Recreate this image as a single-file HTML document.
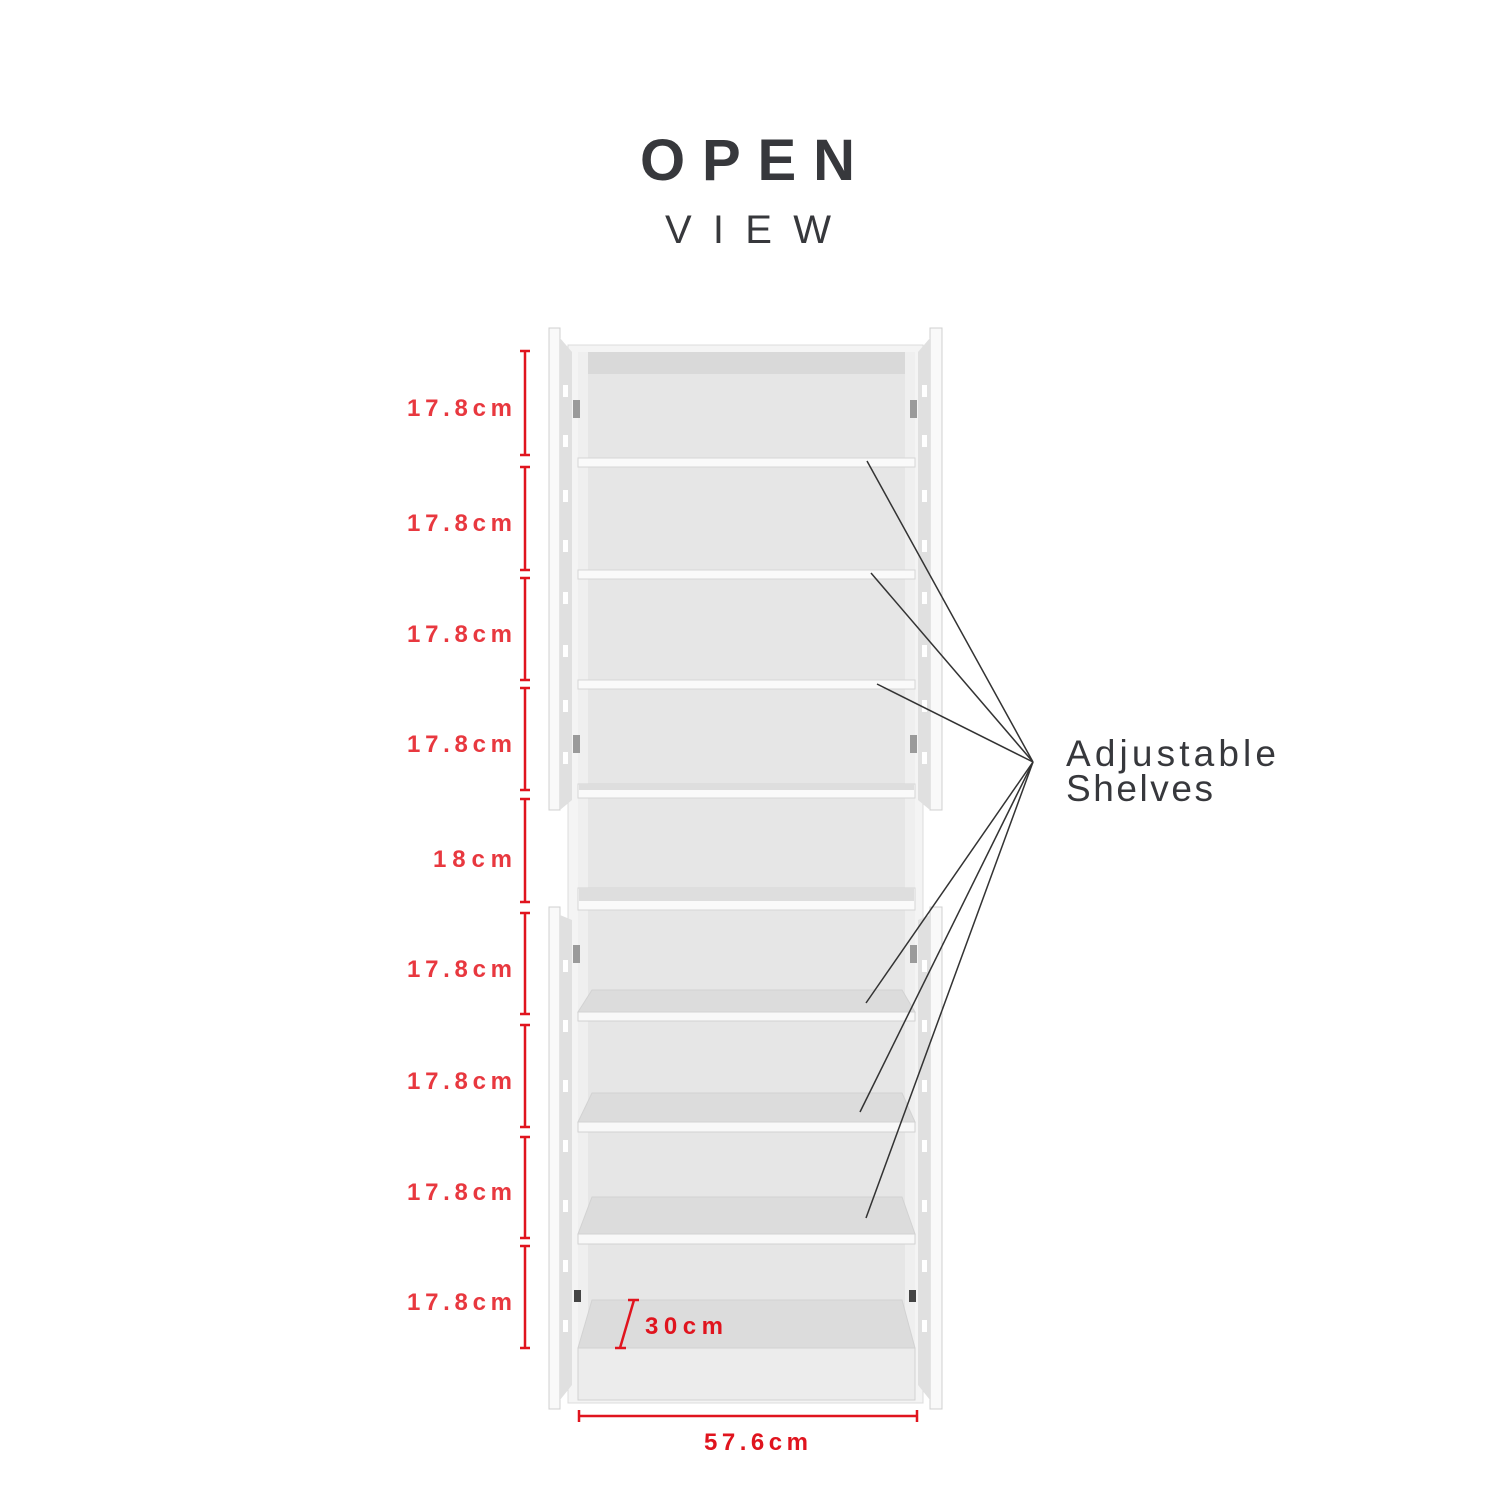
<!DOCTYPE html>
<html><head><meta charset="utf-8"><style>
html,body{margin:0;padding:0;background:#fff}
svg{display:block}
text{font-family:"Liberation Sans","DejaVu Sans",sans-serif}
</style></head><body>
<svg width="1500" height="1500" viewBox="0 0 1500 1500" xmlns="http://www.w3.org/2000/svg">
<text x="640" y="180" font-size="58" font-weight="bold" fill="#37383c" font-family="DejaVu Sans" textLength="215" lengthAdjust="spacing">OPEN</text>
<text x="665" y="243" font-size="40" fill="#37383c" font-family="DejaVu Sans" textLength="166" lengthAdjust="spacing">VIEW</text>

<rect x="568" y="345" width="355" height="1058" fill="#f4f4f4" stroke="#dcdcdc"/>
<rect x="578" y="352" width="337" height="1048" fill="#e6e6e6"/>
<rect x="578" y="352" width="337" height="22" fill="#d9d9d9"/>
<rect x="578" y="352" width="10" height="1048" fill="#efefef"/>
<rect x="905" y="352" width="10" height="1048" fill="#efefef"/>
<g fill="#fafafa" stroke="#d6d6d6">
<rect x="578" y="458" width="337" height="9"/>
<rect x="578" y="570" width="337" height="9"/>
<rect x="578" y="680" width="337" height="9"/>
<rect x="578" y="784" width="337" height="14"/>
<rect x="578" y="888" width="337" height="22"/>
</g>
<g fill="#dedede">
<rect x="579" y="888" width="335" height="13"/>
<rect x="579" y="784" width="335" height="6"/>
</g>
<g stroke="#d2d2d2">
<polygon points="592,990 902,990 915,1012 578,1012" fill="#dcdcdc"/>
<rect x="578" y="1012" width="337" height="9" fill="#f8f8f8"/>
<polygon points="592,1093 902,1093 915,1122 578,1122" fill="#dcdcdc"/>
<rect x="578" y="1122" width="337" height="10" fill="#f8f8f8"/>
<polygon points="592,1197 902,1197 915,1234 578,1234" fill="#dcdcdc"/>
<rect x="578" y="1234" width="337" height="10" fill="#f8f8f8"/>
<polygon points="592,1300 902,1300 915,1348 578,1348" fill="#dcdcdc"/>
<rect x="578" y="1348" width="337" height="52" fill="#ececec"/>
</g>
<g stroke="#d0d0d0" fill="#f9f9f9">
<rect x="549" y="328" width="11" height="482"/>
<rect x="930" y="328" width="12" height="482"/>
<rect x="549" y="907" width="11" height="502"/>
<rect x="930" y="907" width="12" height="502"/>
</g>
<g fill="#e0e0e0">
<polygon points="560,338 572,352 572,800 560,810"/>
<polygon points="930,338 918,352 918,800 930,810"/>
<polygon points="560,915 572,920 572,1385 560,1400"/>
<polygon points="930,915 918,920 918,1385 930,1400"/>
</g>
<g fill="#fff">
<rect x="563" y="385" width="5" height="12"/><rect x="563" y="435" width="5" height="12"/><rect x="563" y="490" width="5" height="12"/><rect x="563" y="540" width="5" height="12"/><rect x="563" y="592" width="5" height="12"/><rect x="563" y="645" width="5" height="12"/><rect x="563" y="700" width="5" height="12"/><rect x="563" y="752" width="5" height="12"/>
<rect x="922" y="385" width="5" height="12"/><rect x="922" y="435" width="5" height="12"/><rect x="922" y="490" width="5" height="12"/><rect x="922" y="540" width="5" height="12"/><rect x="922" y="592" width="5" height="12"/><rect x="922" y="645" width="5" height="12"/><rect x="922" y="700" width="5" height="12"/><rect x="922" y="752" width="5" height="12"/>
<rect x="563" y="960" width="5" height="12"/><rect x="563" y="1020" width="5" height="12"/><rect x="563" y="1080" width="5" height="12"/><rect x="563" y="1140" width="5" height="12"/><rect x="563" y="1200" width="5" height="12"/><rect x="563" y="1260" width="5" height="12"/><rect x="563" y="1320" width="5" height="12"/>
<rect x="922" y="960" width="5" height="12"/><rect x="922" y="1020" width="5" height="12"/><rect x="922" y="1080" width="5" height="12"/><rect x="922" y="1140" width="5" height="12"/><rect x="922" y="1200" width="5" height="12"/><rect x="922" y="1260" width="5" height="12"/><rect x="922" y="1320" width="5" height="12"/>
</g>
<g fill="#9a9a9a">
<rect x="573" y="400" width="7" height="18"/><rect x="910" y="400" width="7" height="18"/>
<rect x="573" y="735" width="7" height="18"/><rect x="910" y="735" width="7" height="18"/>
<rect x="573" y="945" width="7" height="18"/><rect x="910" y="945" width="7" height="18"/>
</g>
<g fill="#444">
<rect x="574" y="1290" width="7" height="12"/><rect x="909" y="1290" width="7" height="12"/>
</g>

<g stroke="#333" stroke-width="1.5" fill="none">
<line x1="1033" y1="762" x2="867" y2="461"/>
<line x1="1033" y1="762" x2="871" y2="573"/>
<line x1="1033" y1="762" x2="877" y2="684"/>
<line x1="1033" y1="762" x2="866" y2="1003"/>
<line x1="1033" y1="762" x2="860" y2="1112"/>
<line x1="1033" y1="762" x2="866" y2="1218"/>
</g>
<text x="1066" y="766" font-size="37" fill="#37383c" font-family="DejaVu Sans" textLength="210" lengthAdjust="spacing">Adjustable</text>
<text x="1066" y="801" font-size="37" fill="#37383c" font-family="DejaVu Sans" textLength="147" lengthAdjust="spacing">Shelves</text>

<g stroke="#e0141e" stroke-width="2.5" fill="none">
<path d="M525 351V455M520 351H530M520 455H530"/>
<path d="M525 467V570M520 467H530M520 570H530"/>
<path d="M525 578V680M520 578H530M520 680H530"/>
<path d="M525 688V790M520 688H530M520 790H530"/>
<path d="M525 799V902M520 799H530M520 902H530"/>
<path d="M525 913V1014M520 913H530M520 1014H530"/>
<path d="M525 1025V1127M520 1025H530M520 1127H530"/>
<path d="M525 1137V1238M520 1137H530M520 1238H530"/>
<path d="M525 1246V1348M520 1246H530M520 1348H530"/>
<path d="M579 1416H917M579 1410V1422M917 1410V1422"/>
<path d="M634 1300L620 1348M628 1300H639M615 1348H626"/>
</g>
<g fill="#e8383f" font-size="24" font-weight="bold" font-family="DejaVu Sans">
<text x="407" y="416" textLength="105" lengthAdjust="spacing">17.8cm</text>
<text x="407" y="531" textLength="105" lengthAdjust="spacing">17.8cm</text>
<text x="407" y="642" textLength="105" lengthAdjust="spacing">17.8cm</text>
<text x="407" y="752" textLength="105" lengthAdjust="spacing">17.8cm</text>
<text x="433" y="867" textLength="79" lengthAdjust="spacing">18cm</text>
<text x="407" y="977" textLength="105" lengthAdjust="spacing">17.8cm</text>
<text x="407" y="1089" textLength="105" lengthAdjust="spacing">17.8cm</text>
<text x="407" y="1200" textLength="105" lengthAdjust="spacing">17.8cm</text>
<text x="407" y="1310" textLength="105" lengthAdjust="spacing">17.8cm</text>
</g>
<text x="645" y="1334" font-size="24" font-weight="bold" fill="#e0141e" font-family="DejaVu Sans" textLength="78" lengthAdjust="spacing">30cm</text>
<text x="704" y="1450" font-size="24" font-weight="bold" fill="#e0141e" font-family="DejaVu Sans" textLength="104" lengthAdjust="spacing">57.6cm</text>
</svg>
</body></html>
